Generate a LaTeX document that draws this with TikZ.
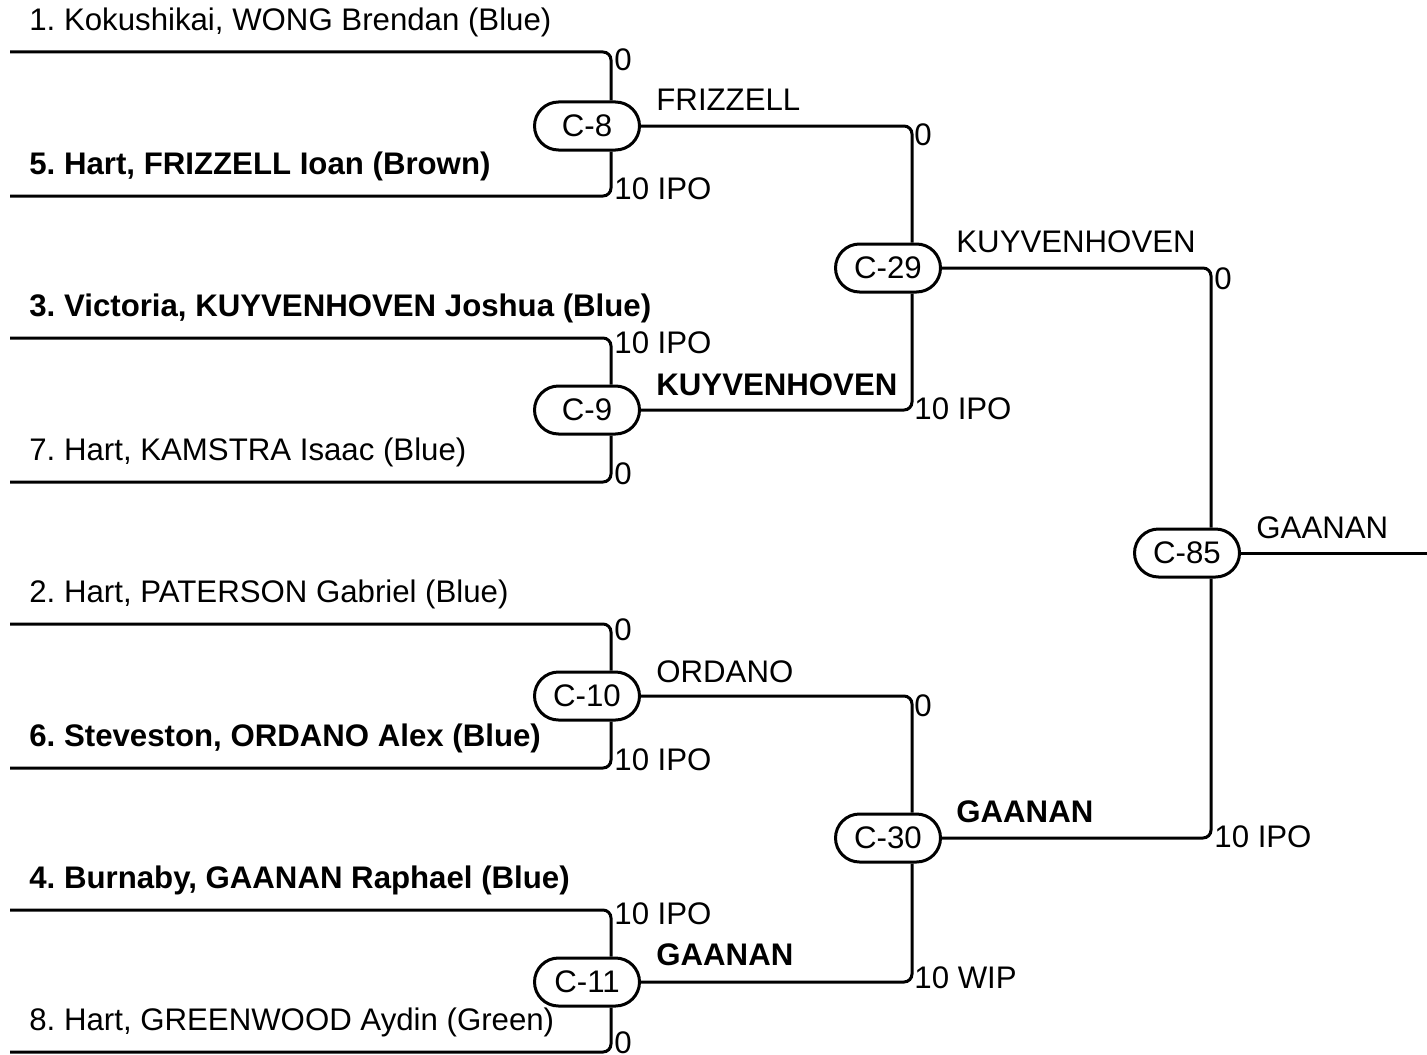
\documentclass[tikz,border=0pt]{standalone}
\usepackage{fontspec}
\setmainfont{Liberation Sans}
\usetikzlibrary{shapes.misc}
\newcommand{\widthmatch}{52.5pt}
\newcommand{\offsetline}{12pt}
\newcommand{\bracketfont}{\fontsize{15.6}{18}\selectfont}
\tikzset{
    common/.style={anchor=west, inner sep=0pt, font=\bracketfont},
    entrant/.style={common},
    seeded/.style={common, font=\bracketfont\bfseries},
    score/.style={common},
    winner/.style={common},
    bigwinner/.style={seeded},
    match/.style={draw, line width=1.5pt, rounded rectangle, fill=white,
        minimum width=\widthmatch, minimum height=24pt, inner sep=0pt,
        font=\bracketfont},
    bracket/.style={line width=1.5pt, rounded corners=4pt}
}
\frenchspacing

\begin{document}
\begin{tikzpicture}[x=0.5pt, y=-0.5pt]
            \useasboundingbox (0,0) rectangle (1427,1054);

            % entrants
            \coordinate (e1) at (10,52);
            \coordinate (e5) at (10,196);
            \coordinate (e3) at (10,338);
            \coordinate (e7) at (10,482);
            \coordinate (e2) at (10,624);
            \coordinate (e6) at (10,768);
            \coordinate (e4) at (10,910);
            \coordinate (e8) at (10,1052);

            \node[entrant] (n1) at (29,22) {1. Kokushikai, WONG Brendan (Blue)};
            \node[seeded] (n5) at (29,166) {5. Hart, FRIZZELL Ioan (Brown)};
            \node[seeded] (n3) at (29,308) {3. Victoria, KUYVENHOVEN Joshua (Blue)};
            \node[entrant] (n7) at (29,452) {7. Hart, KAMSTRA Isaac (Blue)};
            \node[entrant] (n2) at (29,594) {2. Hart, PATERSON Gabriel (Blue)};
            \node[seeded] (n6) at (29,738) {6. Steveston, ORDANO Alex (Blue)};
            \node[seeded] (n4) at (29,880) {4. Burnaby, GAANAN Raphael (Blue)};
            \node[entrant] (n8) at (29,1022) {8. Hart, GREENWOOD Aydin (Green)};

            % matches
            \node[match] (c8) at (587,126) {C-8};
            \node[match] (c9) at (587,410) {C-9};
            \node[match] (c10) at (587,696) {C-10};
            \node[match] (c11) at (587,982) {C-11};
            \node[match] (c29) at (888,268) {C-29};
            \node[match] (c30) at (888,838) {C-30};
            \node[match] (c85) at (1187,553) {C-85};
            \coordinate (champ) at (1427,553);

            \draw[bracket] (e1) -| ([xshift=\offsetline]c8.north);
            \draw[bracket] (e5) -| ([xshift=\offsetline]c8.south);
            \draw[bracket] (e3) -| ([xshift=\offsetline]c9.north);
            \draw[bracket] (e7) -| ([xshift=\offsetline]c9.south);
            \draw[bracket] (e2) -| ([xshift=\offsetline]c10.north);
            \draw[bracket] (e6) -| ([xshift=\offsetline]c10.south);
            \draw[bracket] (e4) -| ([xshift=\offsetline]c11.north);
            \draw[bracket] (e8) -| ([xshift=\offsetline]c11.south);

            \draw[bracket] (c8.east) -| ([xshift=\offsetline]c29.north);
            \draw[bracket] (c9.east) -| ([xshift=\offsetline]c29.south);
            \draw[bracket] (c10.east) -| ([xshift=\offsetline]c30.north);
            \draw[bracket] (c11.east) -| ([xshift=\offsetline]c30.south);
            \draw[bracket] (c29.east) -| ([xshift=\offsetline]c85.north);
            \draw[bracket] (c30.east) -| ([xshift=\offsetline]c85.south);
            \draw[bracket] (c85.east) -- (champ);

            % scores
            \node[score] (s8a) at (614,60) {0};
            \node[score] (s8b) at (614,189) {10 IPO};
            \node[score] (s9a) at (614,343) {10 IPO};
            \node[score] (s9b) at (614,474) {0};
            \node[score] (s10a) at (614,630) {0};
            \node[score] (s10b) at (614,760) {10 IPO};
            \node[score] (s11a) at (614,914) {10 IPO};
            \node[score] (s11b) at (614,1043) {0};
            \node[score] (s29a) at (914,135) {0};
            \node[score] (s29b) at (914,409) {10 IPO};
            \node[score] (s30a) at (914,706) {0};
            \node[score] (s30b) at (914,978) {10 WIP};
            \node[score] (s85a) at (1214,279) {0};
            \node[score] (s85b) at (1214,837) {10 IPO};

            % winners
            \node[winner] (w8) at (656,100) {FRIZZELL};
            \node[bigwinner] (w9) at (656,385) {KUYVENHOVEN};
            \node[winner] (w10) at (656,672) {ORDANO};
            \node[bigwinner] (w11) at (656,955) {GAANAN};
            \node[winner] (w29) at (956,242) {KUYVENHOVEN};
            \node[bigwinner] (w30) at (956,812) {GAANAN};
            \node[winner] (w85) at (1256,528) {GAANAN};
\end{tikzpicture}
\end{document}
